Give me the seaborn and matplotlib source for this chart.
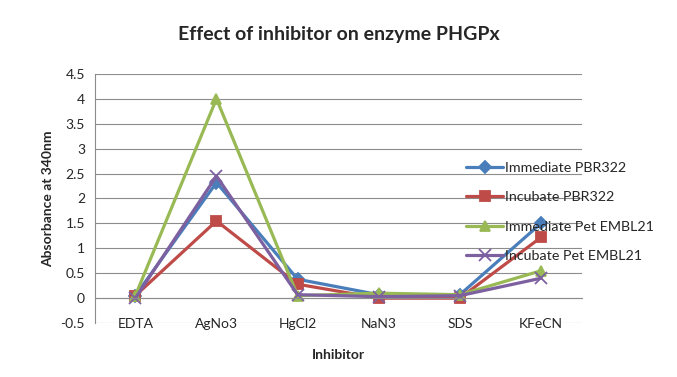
import numpy as np
import pandas as pd
import matplotlib
matplotlib.use("Agg")
import matplotlib.pyplot as plt
import seaborn as sns

inhibitors = ["EDTA", "AgNo3", "HgCl2", "NaN3", "SDS", "KFeCN"]
immediate_pbr = [0.05, 2.32, 0.38, 0.07, 0.07, 1.50]
incubate_pbr = [0.05, 1.55, 0.28, 0.00, 0.00, 1.22]
immediate_pet = [0.05, 4.00, 0.05, 0.10, 0.07, 0.55]
incubate_pet = [0.00, 2.45, 0.07, 0.03, 0.05, 0.40]
series_names = ["Immediate PBR322", "Incubate PBR322",
                "Immediate Pet EMBL21", "Incubate Pet EMBL21"]
series_values = [immediate_pbr, incubate_pbr, immediate_pet, incubate_pet]

colors = ["#4A7EBB", "#BE4B48", "#98B954", "#7D60A0"]
markers = ["D", "s", "^", "x"]
msizes = [6, 7.5, 7.5, 8]

sns.set_style("white")
plt.rcParams["font.family"] = ["Lato", "DejaVu Sans"]

fig = plt.figure(figsize=(6.77, 3.77), dpi=100)
ax = fig.add_axes([0.140, 0.143, 0.719, 0.661])

for name, vals, c, m, ms in zip(series_names, series_values, colors, markers, msizes):
    d = pd.DataFrame({"Inhibitor": inhibitors, "Absorbance": vals})
    sns.lineplot(data=d, x="Inhibitor", y="Absorbance", color=c, marker=m,
                 markersize=ms, markeredgewidth=1.3, markeredgecolor=c,
                 linewidth=2.3, sort=False, label=name, ax=ax)

ax.set_xlim(-0.5, 5.5)
ax.set_ylim(-0.5, 4.5)
ax.set_yticks(np.arange(-0.5, 4.51, 0.5))
ax.set_yticklabels([f"{v:g}" for v in np.arange(-0.5, 4.51, 0.5)], fontsize=10)
ax.yaxis.grid(True, color="#8c8c8c", linewidth=0.8)
ax.set_axisbelow(True)

for s in ["top", "right"]:
    ax.spines[s].set_visible(False)
ax.spines["left"].set_color("#8c8c8c")
ax.spines["bottom"].set_color("#8c8c8c")
ax.spines["bottom"].set_position(("data", 0))
ax.set_xticks(range(len(inhibitors)))
ax.set_xticklabels(inhibitors, fontsize=10)
ax.set_xticks(np.arange(0.5, 5.6, 1.0), minor=True)
ax.tick_params(axis="x", which="major", length=0, pad=14)
ax.tick_params(axis="x", which="minor", length=4, color="#8c8c8c", direction="out")
ax.tick_params(axis="y", length=4, color="#8c8c8c", direction="out", pad=3)

ax.set_xlabel("")
ax.set_ylabel("Absorbance at 340nm", fontsize=10, fontweight="bold", labelpad=5)
fig.text(0.5, 0.058, "Inhibitor", ha="center", va="center", fontsize=10, fontweight="bold")
fig.suptitle("Effect of inhibitor on enzyme PHGPx", x=0.5, y=0.93, fontsize=14,
             fontweight="bold")

handles, labels = ax.get_legend_handles_labels()
ax.legend(handles, labels, loc="upper left", bbox_to_anchor=(0.68, 0.585),
          bbox_transform=fig.transFigure, frameon=False, fontsize=10.3,
          handlelength=2.6, handletextpad=0.1, labelspacing=1.2, borderaxespad=0)

fig.savefig("out.png", dpi=100, facecolor="white")
